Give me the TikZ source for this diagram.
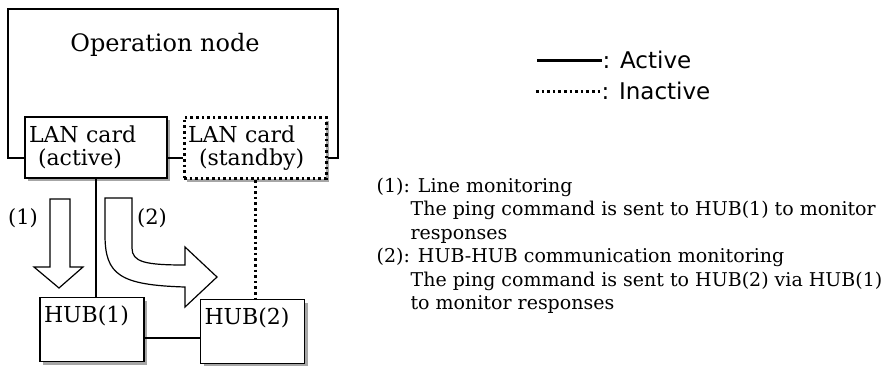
\documentclass[tikz,border=0pt]{standalone}
\usepackage{fontspec}
\setmainfont{DejaVu Serif}
\newfontfamily\legendfont{DejaVu Sans}
\usepackage{tikz}
\usetikzlibrary{positioning,shapes,arrows,shadows}

\begin{document}
\begin{tikzpicture}[x=1pt, y=-1pt, line width=1.2pt,
  boxshadow/.style={drop shadow={shadow xshift=3pt, shadow yshift=-3pt, fill=gray!70, opacity=1}},
  card/.style={draw, rectangle, fill=white, line width=1.5pt, boxshadow, minimum width=142pt, minimum height=61pt, text width=134pt, inner sep=4pt, align=left, font=\fontsize{22}{23}\selectfont},
  hub/.style={draw, rectangle, fill=white, line width=1.5pt, boxshadow, minimum width=104pt, minimum height=64pt, text width=96pt, text depth=30pt, inner sep=4pt, align=left, font=\fontsize{22}{23}\selectfont},
  inactive/.style={line width=3pt, dash pattern=on 2.6pt off 3pt},
  blockarrow/.style={draw, fill=white, line width=1.2pt, line join=miter}]
\useasboundingbox (0,0) rectangle (888,365);

% Operation node with its two LAN cards
\node[card] (active) at (96,147.5) {LAN card\\\hspace*{9pt}(active)};
\node[card, inactive] (standby) at (255,148) {LAN card\\\hspace*{11pt}(standby)};
\coordinate (frameNW) at (8,9);
\coordinate (frameNE) at (338,9);
\coordinate (frameSW) at (8,158);
\coordinate (frameSE) at (338,158);
\draw[line width=1.5pt] (frameSW -| active.west) -- (frameSW) -- (frameNW) -- (frameNE) -- (frameSE) -- (frameSE -| standby.east);
\draw[line width=1.5pt] (frameSW -| active.east) -- (frameSW -| standby.west);
\node[font=\fontsize{24}{26}\selectfont] (opnode) at (165,45) {Operation node};

% HUBs
\node[hub] (hub1) at (92,329.5) {HUB(1)};
\node[hub] (hub2) at (252.5,331.5) {HUB(2)};

% Lines to the HUBs
\draw (active.south) -- (active.south |- hub1.north);
\draw[inactive] (standby.south) -- (standby.south |- hub2.north);
\draw ([yshift=-8.5pt]hub1.east) -- ([yshift=-8.5pt]hub1.east -| hub2.west);

% Monitoring arrows
\draw[blockarrow] (50,199) -- (70,199) -- (70,267) -- (83,267) -- (59,288) -- (34,267) -- (50,267) -- cycle;
\node[font=\fontsize{21}{23}\selectfont] (mon1) at (23,218) {(1)};
\draw[blockarrow] (105,198) -- (132,198) -- (132,248) .. controls (132,262) and (145,265) .. (185,265) -- (185,247) -- (217,277) -- (185,307) -- (185,287) .. controls (120,285) and (105,275) .. (105,235) -- cycle;
\node[font=\fontsize{21}{23}\selectfont] (mon2) at (152,218) {(2)};

% Legend
\node[anchor=west, inner sep=0, font=\legendfont\fontsize{23}{25}\selectfont] (activelbl) at (602,60) {: Active};
\node[anchor=west, inner sep=0, font=\legendfont\fontsize{23}{25}\selectfont] (inactivelbl) at (601,91) {: Inactive};
\coordinate (activestart) at (537,60);
\coordinate (inactivestart) at (536,91);
\draw[line width=3pt] (activestart) -- (activelbl.west);
\draw[inactive] (inactivestart) -- (inactivelbl.west);

% Description of the monitoring
\node[anchor=north west, inner sep=0, align=left, font=\fontsize{19}{23.5}\selectfont] (desc) at (376,177) {(1): Line monitoring\\
\hspace*{34pt}The ping command is sent to HUB(1) to monitor\\
\hspace*{34pt}responses\\
(2): HUB-HUB communication monitoring\\
\hspace*{34pt}The ping command is sent to HUB(2) via HUB(1)\\
\hspace*{34pt}to monitor responses};
\end{tikzpicture}
\end{document}
